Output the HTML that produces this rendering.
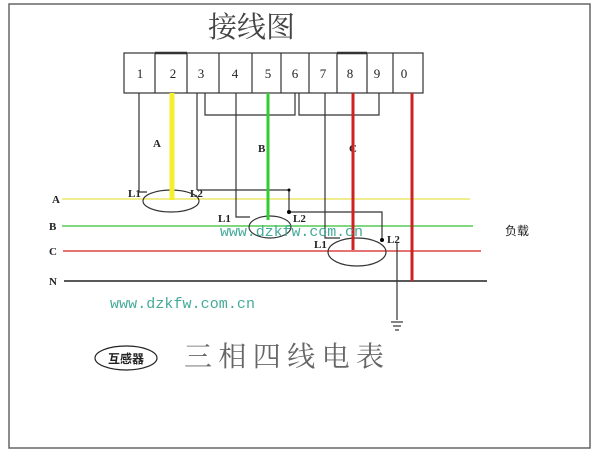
<!DOCTYPE html>
<html><head><meta charset="utf-8"><style>
html,body{margin:0;padding:0;background:#fff;}
svg{display:block;}
</style></head><body>
<svg width="600" height="452" viewBox="0 0 600 452" xmlns="http://www.w3.org/2000/svg">
<rect x="9" y="4" width="581" height="444" fill="#fff" stroke="#666" stroke-width="1.5"/>
<text x="208" y="37" font-family="'Noto Serif CJK SC',serif" font-size="29" fill="#444">接线图</text>
<!-- terminal box -->
<g stroke="#333" stroke-width="1.2" fill="none">
<rect x="124" y="53" width="299" height="40"/>
<line x1="155" y1="53" x2="155" y2="93"/><line x1="187" y1="53" x2="187" y2="93"/>
<line x1="219" y1="53" x2="219" y2="93"/><line x1="252" y1="53" x2="252" y2="93"/>
<line x1="281" y1="53" x2="281" y2="93"/><line x1="309" y1="53" x2="309" y2="93"/>
<line x1="337" y1="53" x2="337" y2="93"/><line x1="367" y1="53" x2="367" y2="93"/>
<line x1="393" y1="53" x2="393" y2="93"/>
<line x1="155" y1="53" x2="187" y2="53" stroke-width="2.5"/>
<line x1="337" y1="53" x2="367" y2="53" stroke-width="2.5"/>
</g>
<g font-family="'Liberation Serif',serif" font-size="13" fill="#222" text-anchor="middle">
<text x="140" y="78">1</text><text x="173" y="78">2</text><text x="201" y="78">3</text>
<text x="235" y="78">4</text><text x="268" y="78">5</text><text x="295" y="78">6</text>
<text x="323" y="78">7</text><text x="350" y="78">8</text><text x="377" y="78">9</text><text x="404" y="78">0</text>
</g>
<!-- phase lines -->
<line x1="62" y1="199" x2="470" y2="199" stroke="#f0ec90" stroke-width="2"/>
<line x1="62" y1="226" x2="473" y2="226" stroke="#5c5" stroke-width="1.5"/>
<line x1="63" y1="251" x2="481" y2="251" stroke="#d44" stroke-width="1.5"/>
<line x1="64" y1="281" x2="487" y2="281" stroke="#222" stroke-width="1.5"/>
<g font-family="'Liberation Serif',serif" font-size="11" font-weight="bold" fill="#222">
<text x="52" y="203">A</text><text x="49" y="230">B</text><text x="49" y="255">C</text><text x="49" y="285">N</text>
<text x="153" y="147">A</text><text x="258" y="152">B</text><text x="349" y="152">C</text>
<text x="128" y="197">L1</text><text x="190" y="197">L2</text>
<text x="218" y="222">L1</text><text x="293" y="222">L2</text>
<text x="314" y="248">L1</text><text x="387" y="243">L2</text>
</g>
<text x="505" y="235" font-family="'Noto Sans CJK SC',sans-serif" font-size="12" fill="#222">负载</text>
<!-- wires -->
<g stroke="#333" stroke-width="1.2" fill="none">
<polyline points="139,93 139,192 147,192"/>
<line x1="197" y1="93" x2="197" y2="190"/>
<polyline points="205,93 205,115 295,115 295,93"/>
<polyline points="299,93 299,115 379,115 379,93"/>
<polyline points="236,93 236,217 250,217"/>
<polyline points="197,190 289,190 289,212"/>
<polyline points="289,212 382,212 382,240"/>
<polyline points="325,93 325,238 340,238"/>
<line x1="397" y1="242" x2="397" y2="320"/>
<line x1="391" y1="322" x2="403" y2="322"/><line x1="393" y1="326" x2="401" y2="326"/><line x1="395" y1="330" x2="399" y2="330"/>
<ellipse cx="171" cy="201" rx="28" ry="11"/>
<ellipse cx="270" cy="227" rx="21" ry="11"/>
<ellipse cx="357" cy="252" rx="29" ry="14"/>
</g>
<circle cx="289" cy="212" r="2" fill="#000"/><circle cx="382" cy="240" r="2" fill="#000"/><circle cx="289" cy="190" r="1.5" fill="#000"/>
<line x1="172" y1="93" x2="172" y2="200" stroke="#f2f030" stroke-width="5"/>
<line x1="268" y1="93" x2="268" y2="220" stroke="#3c3" stroke-width="3"/>
<line x1="353" y1="93" x2="353" y2="250" stroke="#c22" stroke-width="3"/>
<line x1="412" y1="93" x2="412" y2="281" stroke="#c22" stroke-width="3"/>
<g font-family="'Liberation Mono',monospace" fill="#4a9" font-size="15">
<text x="220" y="236" textLength="143">www.dzkfw.com.cn</text>
<text x="110" y="308" textLength="145">www.dzkfw.com.cn</text>
</g>
<ellipse cx="126" cy="358" rx="31" ry="12" fill="none" stroke="#222" stroke-width="1.2"/>
<text x="126" y="363" font-family="'Noto Sans CJK SC',sans-serif" font-size="12" font-weight="bold" fill="#222" text-anchor="middle">互感器</text>
<text x="184" y="366" font-family="'Noto Serif CJK SC',serif" font-size="28" fill="#666" textLength="200">三相四线电表</text>
</svg>
</body></html>
